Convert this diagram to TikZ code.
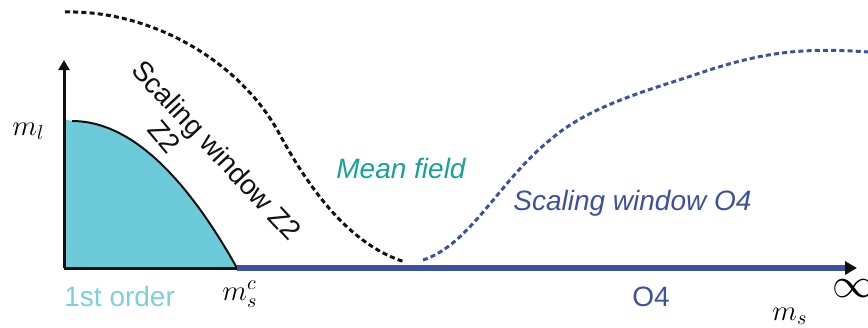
\documentclass[tikz,border=0pt]{standalone}
\usepackage{fontspec}
\setsansfont{Liberation Sans}
\usetikzlibrary{arrows.meta}
\definecolor{ink}{HTML}{111111}
\definecolor{firstfill}{HTML}{6DCAD8}
\definecolor{firsttext}{HTML}{7FCFDA}
\definecolor{meanf}{HTML}{17A399}
\definecolor{ofour}{HTML}{3D51A1}

\begin{document}
\begin{tikzpicture}[x=0.5pt, y=-0.5pt, font=\sffamily\fontsize{14}{16}\selectfont,
  lbl/.style={inner sep=0pt, anchor=base west},
  mathlbl/.style={lbl, font=\fontsize{14}{16}\selectfont},
  window/.style={line width=1.5pt, dash pattern=on 2.5pt off 1.6pt}]
  \useasboundingbox (0,0) rectangle (868,327);

  % Points on the axes
  \coordinate (O) at (64,268);
  \coordinate (ytop) at (64,60);
  \coordinate (msc) at (237,268);
  \coordinate (xend) at (857,268);
  \coordinate (ml) at (64,119);

  % 1st order region
  \fill[firstfill] (O) -- (ml) -- (72,121) .. controls (127,121) and (182,170) .. (msc) -- cycle;
  \draw[ink, line width=1pt] (72,121) .. controls (127,121) and (182,170) .. (msc);

  % Axes
  \draw[ink, line width=1.5pt, -{Triangle[length=5pt, width=5.5pt]}] (O) -- (ytop);
  \draw[ink, line width=1.5pt] (O) -- (msc);
  \draw[ofour, line width=3pt, -{Triangle[length=6pt, width=6.5pt, color=ink]}] (msc) -- (xend);

  % Scaling windows
  \draw[window, ink] (65,12) .. controls (150,10) and (240,60) .. (280,135)
    .. controls (310,190) and (350,245) .. (405,262);
  \draw[window, ofour] (423,260) .. controls (470,245) and (500,180) .. (550,140)
    .. controls (590,105) and (650,90) .. (700,73)
    .. controls (760,53) and (800,47) .. (868,52);

  % Labels
  \node[mathlbl] (mllbl) at (12,135) {$m_l$};
  \node[mathlbl] (msclbl) at (222,300) {$m_s^c$};
  \node[mathlbl] (mslbl) at (772,320) {$m_s$};
  \node[lbl, font=\fontsize{21}{22}\selectfont] (inf) at (832,297) {$\infty$};
  \node[lbl, firsttext] (first) at (64,306) {1st order};
  \node[lbl, ofour] (ofourlbl) at (632,306) {O4};
  \node[lbl, meanf, font=\sffamily\itshape\fontsize{14}{16}\selectfont] (mean) at (336,178) {Mean field};
  \node[lbl, ofour, font=\sffamily\itshape\fontsize{14}{16}\selectfont] (swofour) at (513,210) {Scaling window O4};
  \node[ink, inner sep=0pt, rotate=-47] (swztwo) at (215,152) {Scaling window Z2};
  \node[ink, inner sep=0pt, rotate=-50] (ztwo) at (164,137) {Z2};
\end{tikzpicture}
\end{document}
